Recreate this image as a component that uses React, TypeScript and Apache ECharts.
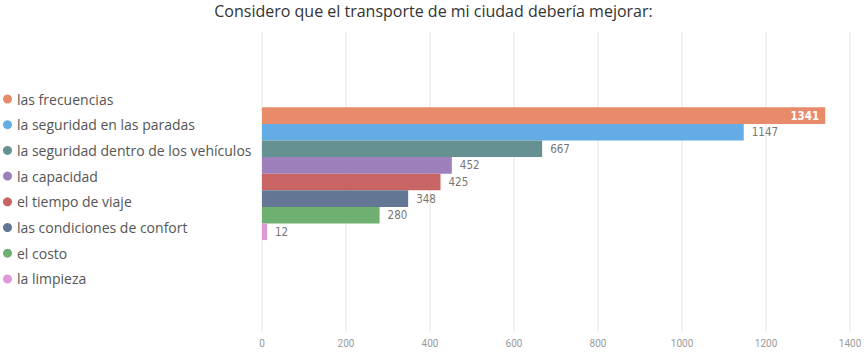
import React, { useEffect, useRef } from "react";
import * as echarts from "echarts";

const titleText = "Considero que el transporte de mi ciudad debería mejorar:";
const seriesNames = [
  "las frecuencias",
  "la seguridad en las paradas",
  "la seguridad dentro de los vehículos",
  "la capacidad",
  "el tiempo de viaje",
  "las condiciones de confort",
  "el costo",
  "la limpieza",
];
const seriesValues = [1341, 1147, 667, 452, 425, 348, 280, 12];
const seriesColors = [
  "#E88B6A",
  "#63ACE5",
  "#669192",
  "#9D80BB",
  "#C96464",
  "#637794",
  "#6DB070",
  "#E097D8",
];
const categories = ["respuestas"];
const xMax = 1400;
const xInterval = 200;

export default function App() {
  const ref = useRef<HTMLDivElement>(null);
  useEffect(() => {
    if (!ref.current) return;
    const chart = echarts.init(ref.current, undefined, { renderer: "svg" });
    const series: any[] = seriesNames.map((name, i) => ({
      name,
      type: "bar",
      data: [seriesValues[i]],
      barWidth: 16.6,
      barGap: "0%",
      itemStyle: { color: seriesColors[i] },
      label: {
        show: true,
        position: i === 0 ? "insideRight" : "right",
        distance: i === 0 ? 6 : 8,
        color: i === 0 ? "#ffffff" : "#777777",
        fontWeight: i === 0 ? "bold" : "normal",
        fontFamily: "DejaVu Sans Condensed",
        fontSize: 11.5,
      },
    }));
    // spacer slot (no legend entry) keeps the bar group placement
    series.push({
      name: "",
      type: "bar",
      data: ["-"],
      barWidth: 16.6,
      barGap: "0%",
      silent: true,
    });
    chart.setOption({
      animation: false,
      title: {
        text: titleText,
        left: "center",
        top: -2,
        textStyle: {
          fontFamily: "Open Sans",
          fontSize: 16,
          fontWeight: "normal",
          color: "#333333",
        },
      },
      legend: {
        orient: "vertical",
        left: -2,
        top: 87,
        icon: "circle",
        itemWidth: 9,
        itemHeight: 9,
        itemGap: 11.7,
        data: seriesNames,
        textStyle: {
          fontFamily: "Open Sans",
          fontSize: 14,
          color: "#555555",
        },
      },
      grid: { left: 262, right: 17, top: 32, bottom: 25, containLabel: false },
      xAxis: {
        type: "value",
        min: 0,
        max: xMax,
        interval: xInterval,
        axisLine: { show: false },
        axisTick: { show: false },
        axisLabel: {
          color: "#999999",
          fontSize: 10,
          fontFamily: "Roboto",
          margin: 6,
          formatter: (v: number) => String(v),
        },
        splitLine: { lineStyle: { color: "#eeeeee", width: 1.5 } },
      },
      yAxis: {
        type: "category",
        data: categories,
        inverse: true,
        axisLine: { show: false },
        axisTick: { show: false },
        axisLabel: { show: false },
        splitLine: { show: false },
      },
      series,
    });
    return () => chart.dispose();
  }, []);
  return (
    <div
      ref={ref}
      style={{ position: "absolute", left: 0, top: 0, width: 867, height: 357 }}
    />
  );
}
